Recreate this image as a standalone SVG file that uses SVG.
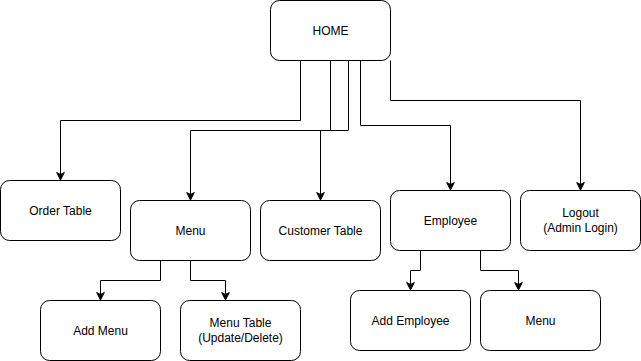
<svg xmlns="http://www.w3.org/2000/svg" width="641" height="361" viewBox="0 0 641 361">
  <style>
    .box { fill: #ffffff; stroke: #000000; stroke-width: 1; }
    .lbl { font-family: "Liberation Sans", Arial, Helvetica, sans-serif; font-size: 12px; fill: #000000; text-anchor: middle; dominant-baseline: central; }
    .edge { fill: none; stroke: #000000; stroke-width: 1; marker-end: url(#arrow); }
  </style>
  <defs>
    <marker id="arrow" markerUnits="userSpaceOnUse" markerWidth="10" markerHeight="10" viewBox="0 0 10 10" refX="9" refY="5" orient="auto">
      <path d="M1.5,1.2 L9,5 L1.5,8.8 L3.5,5 Z" fill="#000000" stroke="#000000" stroke-width="1"/>
    </marker>
  </defs>
  <rect width="641" height="361" fill="#ffffff"/>

  <g id="connectors">
    <path class="edge" d="M300.5,60.5 V120.5 H60.5 V180"/>
    <path class="edge" d="M330.5,60.5 V130.5 H190.5 V200"/>
    <path class="edge" d="M348.5,60.5 V130.5 H320.5 V200"/>
    <path class="edge" d="M360.5,60.5 V125.5 H450.5 V190"/>
    <path class="edge" d="M390.5,60.5 V100.5 H580.5 V190"/>
    <path class="edge" d="M160.5,260.5 V280.5 H100.5 V300"/>
    <path class="edge" d="M190.5,260.5 V280.5 H225.5 V300"/>
    <path class="edge" d="M420.5,250.5 V270.5 H410.5 V290"/>
    <path class="edge" d="M480.5,250.5 V270.5 H518.5 V290"/>
  </g>

  <g id="home">
    <rect class="box" x="270.5" y="0.5" width="120" height="60" rx="9"/>
    <text class="lbl" x="330.5" y="30.5">HOME</text>
  </g>
  <g id="order-table">
    <rect class="box" x="0.5" y="180.5" width="120" height="60" rx="9"/>
    <text class="lbl" x="60.5" y="210.5">Order Table</text>
  </g>
  <g id="menu">
    <rect class="box" x="130.5" y="200.5" width="120" height="60" rx="9"/>
    <text class="lbl" x="190.5" y="230.5">Menu</text>
  </g>
  <g id="customer-table">
    <rect class="box" x="260.5" y="200.5" width="120" height="60" rx="9"/>
    <text class="lbl" x="320.5" y="230.5">Customer Table</text>
  </g>
  <g id="employee">
    <rect class="box" x="390.5" y="190.5" width="120" height="60" rx="9"/>
    <text class="lbl" x="450.5" y="220.5">Employee</text>
  </g>
  <g id="logout">
    <rect class="box" x="520.5" y="190.5" width="120" height="60" rx="9"/>
    <text class="lbl" x="580.5" y="213">Logout</text>
    <text class="lbl" x="580.5" y="228">(Admin Login)</text>
  </g>
  <g id="add-menu">
    <rect class="box" x="40.5" y="300.5" width="120" height="60" rx="9"/>
    <text class="lbl" x="100.5" y="330.5">Add Menu</text>
  </g>
  <g id="menu-table">
    <rect class="box" x="180.5" y="300.5" width="120" height="60" rx="9"/>
    <text class="lbl" x="240.5" y="323">Menu Table</text>
    <text class="lbl" x="240.5" y="338">(Update/Delete)</text>
  </g>
  <g id="add-employee">
    <rect class="box" x="350.5" y="290.5" width="120" height="60" rx="9"/>
    <text class="lbl" x="410.5" y="320.5">Add Employee</text>
  </g>
  <g id="employee-menu">
    <rect class="box" x="480.5" y="290.5" width="120" height="60" rx="9"/>
    <text class="lbl" x="540.5" y="320.5">Menu</text>
  </g>
</svg>
